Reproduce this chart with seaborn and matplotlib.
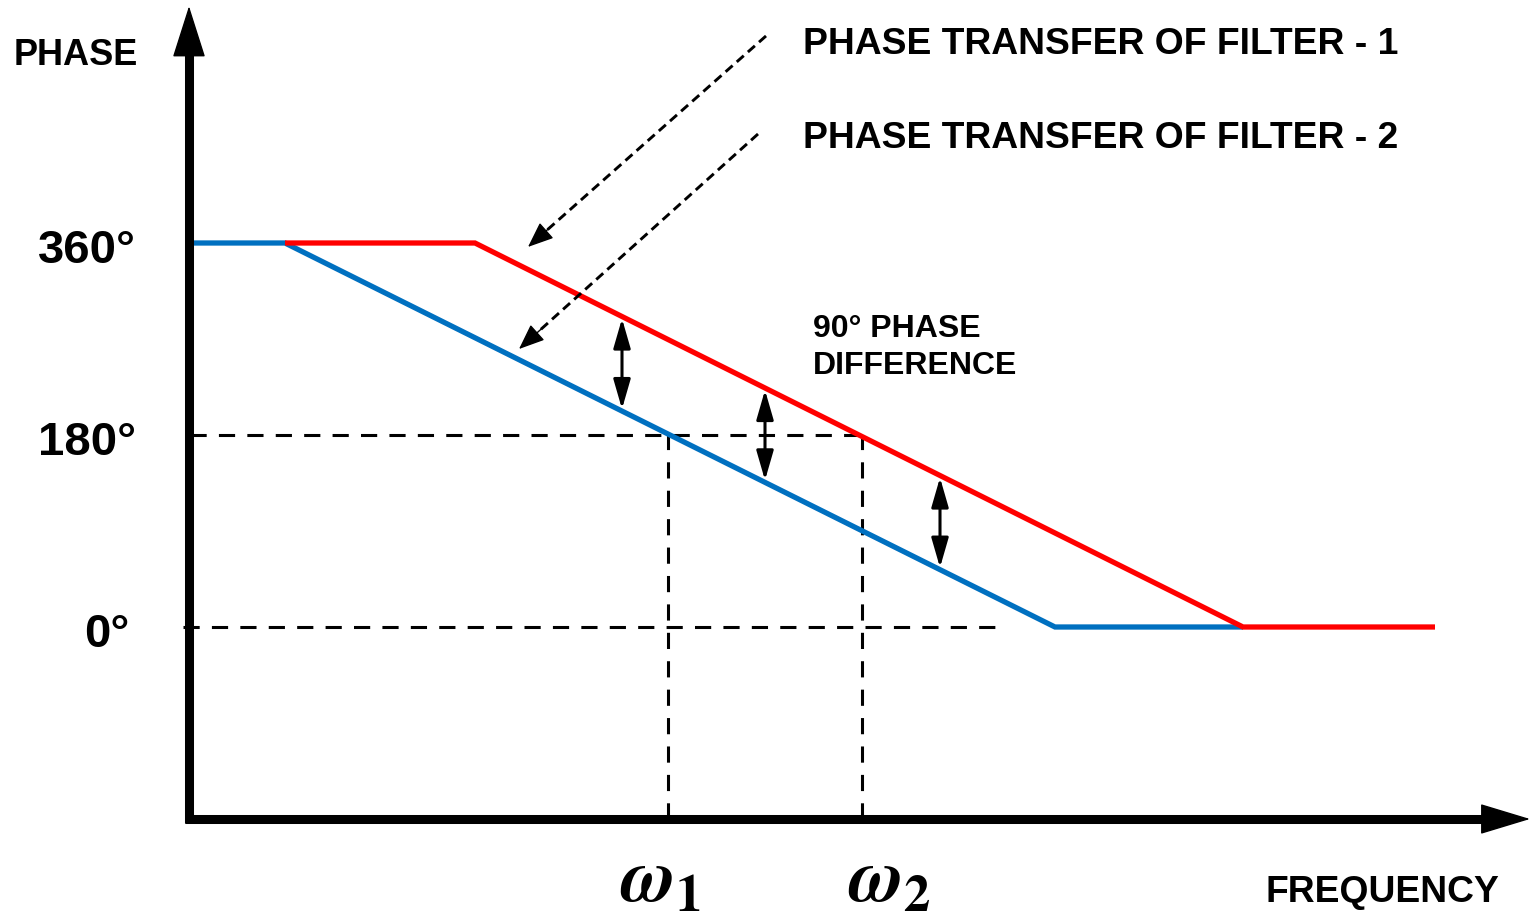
import numpy as np
import pandas as pd
import matplotlib
matplotlib.use('Agg')
import matplotlib.pyplot as plt
import seaborn as sns

# phase transfer of the two filters (frequency in arbitrary units, phase in degrees)
freq_filter1 = [285, 475, 1243, 1435]
phase_filter1 = [360, 360, 0, 0]
freq_filter2 = [190, 285, 1055, 1243]
phase_filter2 = [360, 360, 0, 0]

phase_ticks = [360, 180, 0]
tick_labels = ['360°', '180°', '0°']
omega_freqs = [668, 862]
omega_labels = [r'$\omega_\mathbf{1}$', r'$\omega_\mathbf{2}$']
diff_freqs = [622, 765, 940]   # where the 90 deg difference arrows sit

sns.set_theme(style='white')
plt.rcParams['font.family'] = ['Liberation Sans', 'DejaVu Sans']
plt.rcParams['font.weight'] = 'bold'
plt.rcParams['text.color'] = 'black'
plt.rcParams['mathtext.fontset'] = 'stix'
sans = ['Liberation Sans', 'DejaVu Sans']

df = pd.concat([
    pd.DataFrame({'freq': freq_filter2, 'phase': phase_filter2, 'filter': 'Filter 2'}),
    pd.DataFrame({'freq': freq_filter1, 'phase': phase_filter1, 'filter': 'Filter 1'}),
])

fig = plt.figure(figsize=(15.31, 9.2), dpi=100)
ax = fig.add_axes([0, 0, 1, 1])
ax.set_xlim(0, 1531)
ax.set_ylim(-273.75, 588.75)
ax.axis('off')

px = 920 / (588.75 + 273.75)   # pixels per degree
x0 = 189                        # where the phase axis sits
y_axis = -180                   # where the frequency axis sits

# dashed guide lines
dash = (0, (5.3, 4))
ax.hlines(180, 190, omega_freqs[1], colors='black', lw=2.2, linestyles=[dash])
ax.hlines(0, 183, 1005, colors='black', lw=2.2, linestyles=[dash])
for f in omega_freqs:
    ax.vlines(f, y_axis, 180, colors='black', lw=2.2, linestyles=[dash])

# the two phase curves
sns.lineplot(data=df, x='freq', y='phase', hue='filter', hue_order=['Filter 2', 'Filter 1'],
             palette={'Filter 1': '#FF0000', 'Filter 2': '#0070C0'}, sort=False,
             estimator=None, lw=3.8, legend=False, ax=ax)
for ln in ax.get_lines():
    ln.set_solid_capstyle('butt')
    ln.set_solid_joinstyle('miter')

# axes with arrow heads
ax.plot([x0, x0], [y_axis - 4 / px, 540], color='black', lw=6.5, solid_capstyle='butt')
ax.annotate('', xy=(x0, 582), xytext=(x0, 400),
            arrowprops=dict(arrowstyle='-|>,head_length=34,head_width=10.8', mutation_scale=1,
                            lw=1, color='black', shrinkA=0, shrinkB=0))
ax.plot([185, 1486], [y_axis, y_axis], color='black', lw=6.5, solid_capstyle='butt')
ax.annotate('', xy=(1530, y_axis), xytext=(1300, y_axis),
            arrowprops=dict(arrowstyle='-|>,head_length=33,head_width=10', mutation_scale=1,
                            lw=1, color='black', shrinkA=0, shrinkB=0))

# 90 degree difference arrows
low = np.interp(diff_freqs, freq_filter2, phase_filter2)
high = np.interp(diff_freqs, freq_filter1, phase_filter1)
for f, lo, hi in zip(diff_freqs, low, high):
    ax.annotate('', xy=(f, hi), xytext=(f, lo),
                arrowprops=dict(arrowstyle='<|-|>,head_length=18,head_width=5.2', mutation_scale=1,
                                lw=2.2, color='black', shrinkA=1.5, shrinkB=1.5))

# dashed pointer arrows to the curves
pointers = [((766, 554.1), (528, 356.3)), ((758, 462.2), (519, 260.6))]
for (tx, ty), (hx, hy) in pointers:
    dxp, dyp = hx - tx, (hy - ty) * px
    L = np.hypot(dxp, dyp)
    bx, by = hx - dxp / L * 30, hy - dyp / L * 30 / px
    ax.plot([tx, bx + dxp / L * 8], [ty, by + dyp / L * 8 / px], color='black', lw=2.1,
            linestyle=(0, (3.2, 1.9)))
    ax.annotate('', xy=(hx, hy), xytext=(bx, by),
                arrowprops=dict(arrowstyle='-|>,head_length=16,head_width=6.5', mutation_scale=1,
                                lw=1, color='black', shrinkA=0, shrinkB=0))

# texts
ax.text(14, 527.8, 'PHASE', fontsize=26, fontweight='bold', family=sans, ha='left', va='baseline')
for v, lab in zip(phase_ticks, tick_labels):
    ax.text(136 if v else 129, v - 18, lab, fontsize=34, fontweight='bold', family=sans,
            ha='right', va='baseline')
ax.text(803, 538, 'PHASE TRANSFER OF FILTER - 1', fontsize=26.8, fontweight='bold', family=sans,
        va='baseline')
ax.text(803, 450, 'PHASE TRANSFER OF FILTER - 2', fontsize=26.8, fontweight='bold', family=sans,
        va='baseline')
ax.text(813, 272.8, '90° PHASE', fontsize=23, fontweight='bold', family=sans, va='baseline')
ax.text(813, 238.1, 'DIFFERENCE', fontsize=23, fontweight='bold', family=sans, va='baseline')
ax.text(1265, -256.9, 'FREQUENCY', fontsize=26.8, fontweight='bold', family=sans, va='baseline')
for f, lab, left in zip(omega_freqs, omega_labels, [620, 848]):
    ax.text(left, -256, lab, fontsize=54, ha='left', va='baseline')

fig.savefig('out.png', dpi=100)
